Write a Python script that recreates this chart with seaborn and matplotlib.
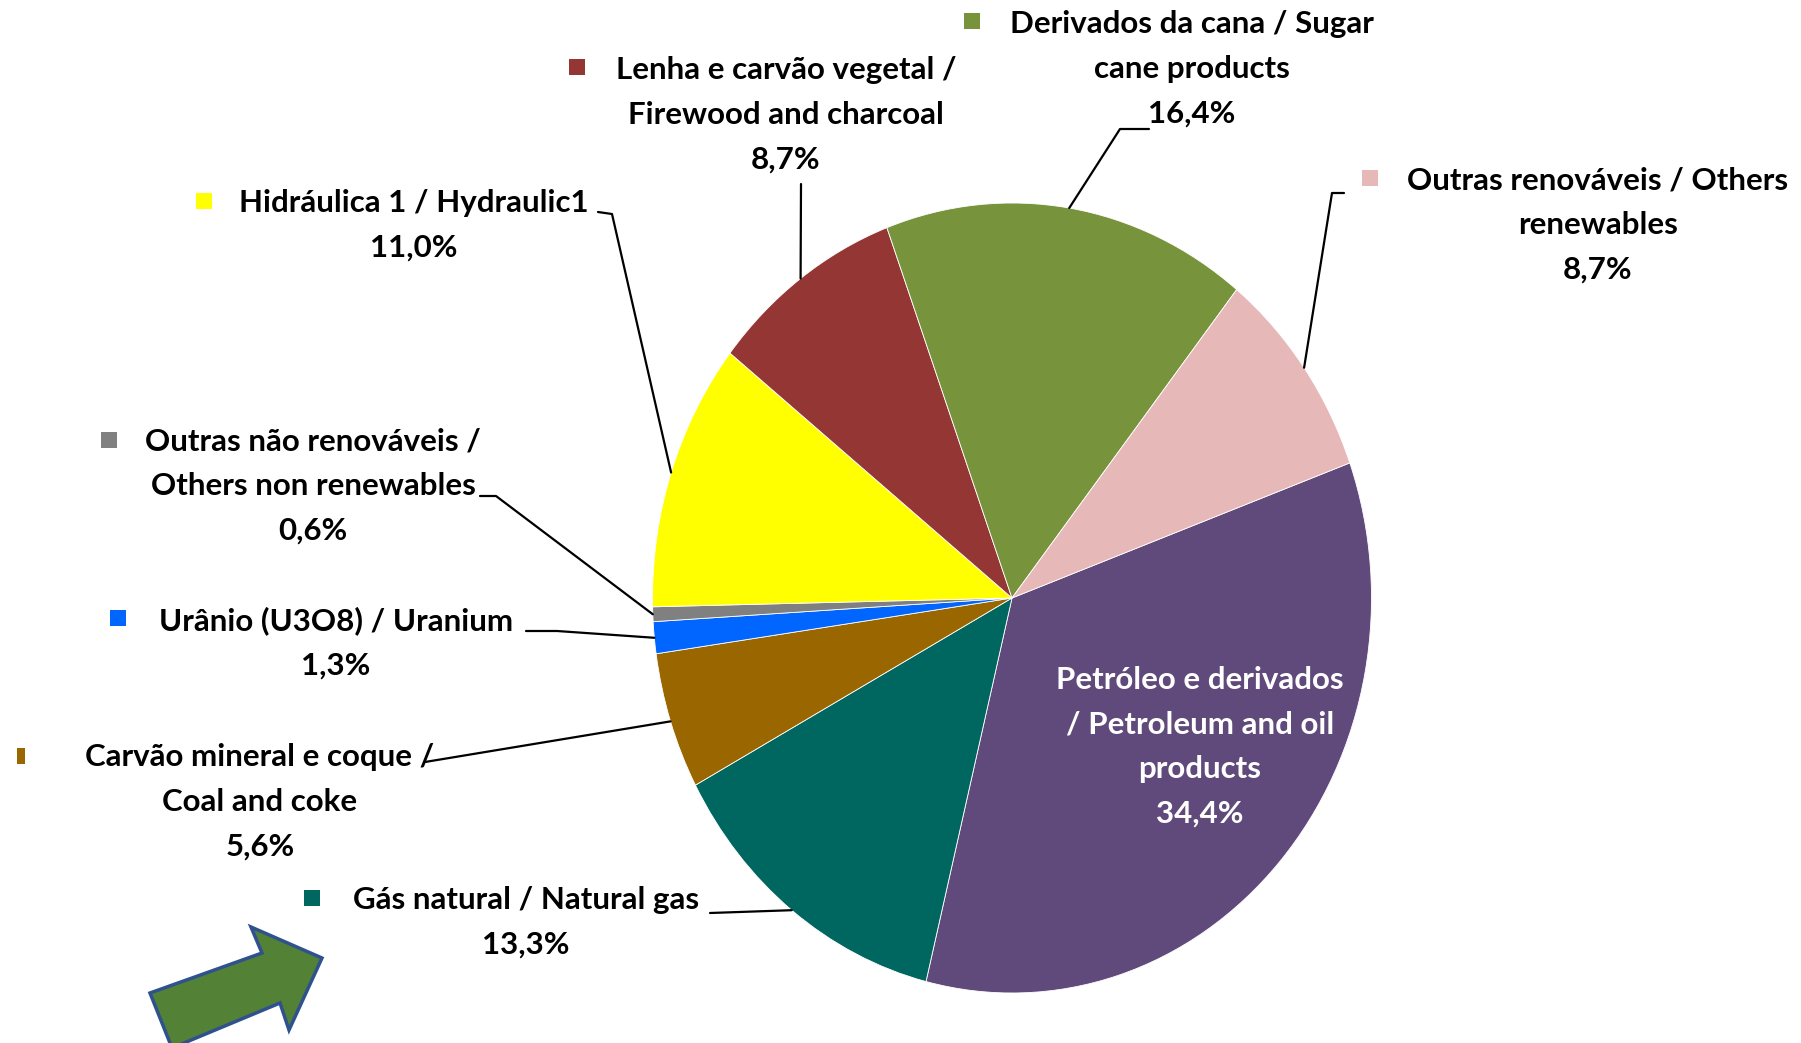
import matplotlib
matplotlib.use("Agg")
import numpy as np
import matplotlib.pyplot as plt
import seaborn as sns
from matplotlib.patches import Polygon, Rectangle

# --- data ---
categories = [
    "Petróleo e derivados\n/ Petroleum and oil\nproducts",
    "Gás natural / Natural gas",
    "Carvão mineral e coque /\nCoal and coke",
    "Urânio (U3O8) / Uranium",
    "Outras não renováveis /\nOthers non renewables",
    "Hidráulica 1 / Hydraulic1",
    "Lenha e carvão vegetal /\nFirewood and charcoal",
    "Derivados da cana / Sugar\ncane products",
    "Outras renováveis / Others\nrenewables",
]
shares = [34.4, 13.3, 5.6, 1.3, 0.6, 11.0, 8.7, 16.4, 8.7]
colors = ["#604A7B", "#006660", "#996600", "#0066FF", "#808080",
          "#FFFF00", "#943634", "#77933C", "#E6B9B8"]

# --- layout (reference pixel positions) ---
W, H = 1801, 1043
cx, cy, rx, ry = 1012, 598, 359.5, 395


def px(x, y):
    return (x - cx) / rx, (cy - y) / ry


# text block centre, legend key position, leader points (label side)
label_pos = [(1200, 747), (526, 922), (260, 802), (336, 643), (313, 486),
             (414, 225), (786, 115), (1192, 69), (1598, 225)]
key_pos = [None, (312, 898), (21, 756), (118, 618), (109, 440),
           (204, 201), (577, 67), (972, 21), (1370, 178)]
leader_pts = [None,
              [(710, 913)],
              [(425, 762)],
              [(526, 631), (557, 631)],
              [(480, 496), (496, 496)],
              [(598, 212), (612, 214)],
              [(801, 184)],
              [(1149, 129), (1120, 129)],
              [(1344, 193), (1332, 193)]]

sns.set_theme(style="white")
plt.rcParams["font.family"] = ["Lato", "DejaVu Sans"]

fig = plt.figure(figsize=(W / 100, H / 100), dpi=100)
ax = fig.add_axes([0, 0, 1, 1])

wedges, _ = ax.pie(shares, colors=colors, startangle=20, counterclock=False,
                   radius=1, center=(0, 0),
                   wedgeprops=dict(edgecolor="white", linewidth=0.6))
ax.set_aspect("auto")
ax.set_xlim(-cx / rx, (W - cx) / rx)
ax.set_ylim(-(H - cy) / ry, cy / ry)
ax.axis("off")

for i, (name, val) in enumerate(zip(categories, shares)):
    pct = f"{val:.1f}".replace(".", ",") + "%"
    tx, ty = px(*label_pos[i])
    ax.text(tx, ty, f"{name}\n{pct}", ha="center", va="center",
            multialignment="center", fontsize=22.5, fontweight="bold",
            linespacing=1.72, color="white" if i == 0 else "black")
    if key_pos[i] is not None:
        kx, ky = px(*key_pos[i])
        kw = (8 if i == 2 else 16) / rx
        ax.add_patch(Rectangle((kx - kw / 2, ky - 8 / ry), kw, 16 / ry,
                               color=colors[i], lw=0))
    if leader_pts[i] is not None:
        w = wedges[i]
        mid = np.deg2rad((w.theta1 + w.theta2) / 2)
        pts = [px(*p) for p in leader_pts[i]] + [(np.cos(mid), np.sin(mid))]
        xs, ys = zip(*pts)
        ax.plot(xs, ys, color="black", lw=1.6)

# green block arrow at bottom-left
arrow = [(150, 993), (262, 953), (251, 927), (322, 958), (289, 1030),
         (280, 1003), (172, 1048)]
ax.add_patch(Polygon([px(*p) for p in arrow], closed=True,
                     facecolor="#538135", edgecolor="#2F528F", lw=2.5))

fig.savefig("out.png", dpi=100)
